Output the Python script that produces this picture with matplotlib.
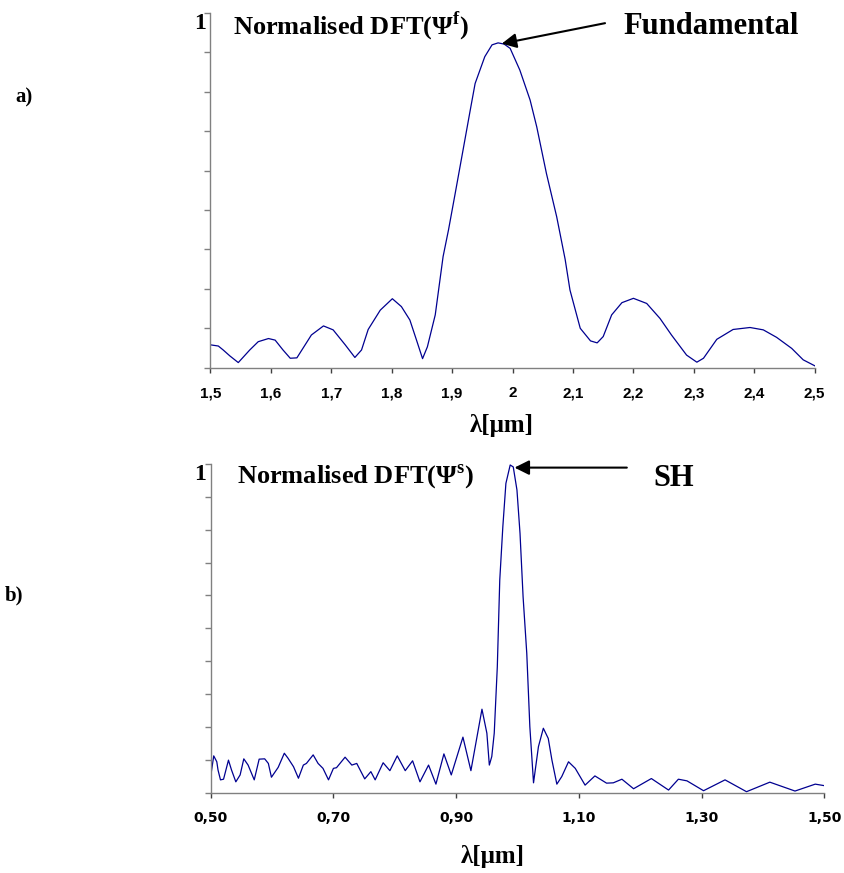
import matplotlib
matplotlib.use("Agg")
import matplotlib.pyplot as plt

plt.rcParams["mathtext.fontset"] = "custom"
plt.rcParams["mathtext.rm"] = "Liberation Serif:bold"
plt.rcParams["mathtext.bf"] = "Liberation Serif:bold"

# ── data ───────────────────────────────────────────────────────────────────
# a) fundamental spectrum
lam_f = [1.500, 1.513, 1.521, 1.532, 1.546, 1.565, 1.579, 1.596, 1.607, 1.620,
         1.632, 1.643, 1.667, 1.687, 1.703, 1.723, 1.739, 1.750, 1.761, 1.781,
         1.801, 1.816, 1.830, 1.841, 1.851, 1.859, 1.872, 1.885, 1.894, 1.905,
         1.918, 1.930, 1.938, 1.954, 1.966, 1.976, 1.986, 1.996, 2.012, 2.029,
         2.040, 2.056, 2.073, 2.087, 2.095, 2.112, 2.129, 2.140, 2.150, 2.164,
         2.181, 2.200, 2.222, 2.244, 2.263, 2.288, 2.305, 2.316, 2.338, 2.365,
         2.393, 2.415, 2.437, 2.462, 2.481, 2.500]
dft_f = [0.158, 0.155, 0.145, 0.130, 0.113, 0.145, 0.166, 0.174, 0.170, 0.145,
         0.124, 0.125, 0.183, 0.206, 0.196, 0.158, 0.126, 0.145, 0.197, 0.246,
         0.275, 0.255, 0.221, 0.170, 0.123, 0.153, 0.234, 0.382, 0.450, 0.542,
         0.652, 0.754, 0.821, 0.889, 0.919, 0.924, 0.921, 0.910, 0.855, 0.779,
         0.711, 0.593, 0.483, 0.375, 0.297, 0.200, 0.168, 0.163, 0.179, 0.234,
         0.265, 0.276, 0.263, 0.225, 0.183, 0.132, 0.114, 0.124, 0.172, 0.197,
         0.202, 0.196, 0.177, 0.149, 0.120, 0.105]

# b) second harmonic spectrum
lam_s = [0.500, 0.505, 0.510, 0.512, 0.516, 0.521, 0.529, 0.534, 0.541, 0.548,
         0.554, 0.561, 0.571, 0.579, 0.588, 0.594, 0.599, 0.610, 0.620, 0.626,
         0.635, 0.643, 0.651, 0.656, 0.667, 0.675, 0.683, 0.692, 0.700, 0.705,
         0.719, 0.730, 0.738, 0.751, 0.761, 0.768, 0.781, 0.792, 0.804, 0.817,
         0.829, 0.841, 0.855, 0.867, 0.880, 0.892, 0.911, 0.924, 0.942, 0.950,
         0.954, 0.958, 0.962, 0.967, 0.971, 0.976, 0.981, 0.988, 0.993, 0.999,
         1.004, 1.009, 1.015, 1.020, 1.026, 1.034, 1.042, 1.050, 1.056, 1.064,
         1.072, 1.083, 1.094, 1.110, 1.126, 1.145, 1.156, 1.170, 1.189, 1.218,
         1.246, 1.262, 1.276, 1.303, 1.338, 1.373, 1.411, 1.452, 1.485, 1.501]
dft_s = [0.049, 0.112, 0.094, 0.069, 0.039, 0.041, 0.099, 0.069, 0.033, 0.054,
         0.103, 0.084, 0.039, 0.102, 0.103, 0.089, 0.047, 0.077, 0.120, 0.105,
         0.079, 0.044, 0.084, 0.089, 0.115, 0.089, 0.074, 0.039, 0.074, 0.076,
         0.108, 0.084, 0.089, 0.042, 0.064, 0.039, 0.091, 0.067, 0.112, 0.067,
         0.097, 0.033, 0.084, 0.026, 0.118, 0.054, 0.169, 0.067, 0.254, 0.181,
         0.084, 0.110, 0.181, 0.383, 0.647, 0.809, 0.941, 0.997, 0.991, 0.921,
         0.789, 0.596, 0.424, 0.201, 0.030, 0.140, 0.196, 0.165, 0.099, 0.026,
         0.049, 0.094, 0.074, 0.023, 0.051, 0.029, 0.030, 0.041, 0.012, 0.043,
         0.008, 0.041, 0.036, 0.006, 0.039, 0.003, 0.032, 0.005, 0.026, 0.021]

ticks_f = [1.5, 1.6, 1.7, 1.8, 1.9, 2.0, 2.1, 2.2, 2.3, 2.4, 2.5]
labels_f = ["1,5", "1,6", "1,7", "1,8", "1,9", "2", "2,1", "2,2", "2,3", "2,4", "2,5"]
ticks_s = [0.5, 0.7, 0.9, 1.1, 1.3, 1.5]
labels_s = ["0,50", "0,70", "0,90", "1,10", "1,30", "1,50"]

LINE = "#000090"
AXC = "#808080"
SERIF = "Liberation Serif"

fig = plt.figure(figsize=(8.45, 8.73), dpi=100)
ax1 = fig.add_axes([0.2491, 0.5788, 0.7150, 0.4064])
ax2 = fig.add_axes([0.2493, 0.0920, 0.7264, 0.3765])


def style(ax, yticks):
    for s in ("top", "right"):
        ax.spines[s].set_visible(False)
    for s in ("left", "bottom"):
        ax.spines[s].set_color(AXC)
        ax.spines[s].set_linewidth(1.0)
    ax.set_yticks(yticks)
    ax.set_yticklabels([])
    ax.tick_params(axis="y", direction="out", length=4.5, width=1, color=AXC)
    ax.tick_params(axis="x", direction="out", length=3.5, width=1, color="#404040")


# ── a) ─────────────────────────────────────────────────────────────────────
ax1.plot(lam_f, dft_f, color=LINE, lw=0.9)
ax1.set_xlim(1.5, 2.5)
ax1.set_ylim(0.1, 1.0)
style(ax1, [0.1 * k for k in range(1, 11)])
ax1.set_xticks(ticks_f)
ax1.set_xticklabels(labels_f, fontfamily="Liberation Sans", fontweight="bold",
                    fontsize=11)
ax1.tick_params(axis="x", pad=10)

ax1.text(-0.008, 1.0, "1", transform=ax1.transAxes, ha="right", va="top",
         fontfamily=SERIF, fontweight="bold", fontsize=17)
fig.text(233 / 845, 1 - 26 / 873, r"Normalised DFT(Ψ$^{\mathrm{f}}$)",
         ha="left", va="center", fontfamily=SERIF, fontweight="bold", fontsize=19)
fig.text(623 / 845, 1 - 27 / 873, "Fundamental", ha="left", va="center",
         fontfamily=SERIF, fontweight="bold", fontsize=22)
ax1.annotate("", xy=(1.982, 0.922), xytext=(2.153, 0.974),
             arrowprops=dict(arrowstyle="-|>", color="black", lw=1.5,
                             mutation_scale=22, shrinkA=0, shrinkB=0),
             annotation_clip=False)
fig.text(502 / 845, 1 - 425 / 873, "λ[μm]", ha="center", va="center",
         fontfamily=SERIF, fontweight="bold", fontsize=18)
fig.text(24 / 845, 1 - 97 / 873, "a)", ha="center", va="center",
         fontfamily=SERIF, fontweight="bold", fontsize=15)

# ── b) ─────────────────────────────────────────────────────────────────────
ax2.plot(lam_s, dft_s, color=LINE, lw=0.9)
ax2.set_xlim(0.5, 1.5)
ax2.set_ylim(0.0, 1.0)
style(ax2, [0.1 * k for k in range(0, 11)])
ax2.set_xticks(ticks_s)
ax2.set_xticklabels(labels_s, fontfamily="DejaVu Sans", fontweight="bold",
                    fontsize=10)
ax2.tick_params(axis="x", pad=10)

ax2.text(-0.008, 1.0, "1", transform=ax2.transAxes, ha="right", va="top",
         fontfamily=SERIF, fontweight="bold", fontsize=17)
fig.text(237 / 845, 1 - 476.5 / 873, r"Normalised DFT(Ψ$^{\mathrm{s}}$)",
         ha="left", va="center", fontfamily=SERIF, fontweight="bold", fontsize=19)
fig.text(653 / 845, 1 - 478 / 873, "SH", ha="left", va="center",
         fontfamily=SERIF, fontweight="bold", fontsize=22)
ax2.annotate("", xy=(0.995, 0.989), xytext=(1.178, 0.989),
             arrowprops=dict(arrowstyle="-|>", color="black", lw=1.5,
                             mutation_scale=22, shrinkA=0, shrinkB=0),
             annotation_clip=False)
fig.text(493 / 845, 1 - 856 / 873, "λ[μm]", ha="center", va="center",
         fontfamily=SERIF, fontweight="bold", fontsize=18)
fig.text(14 / 845, 1 - 595 / 873, "b)", ha="center", va="center",
         fontfamily=SERIF, fontweight="bold", fontsize=15)

fig.savefig("out.png", dpi=100)
